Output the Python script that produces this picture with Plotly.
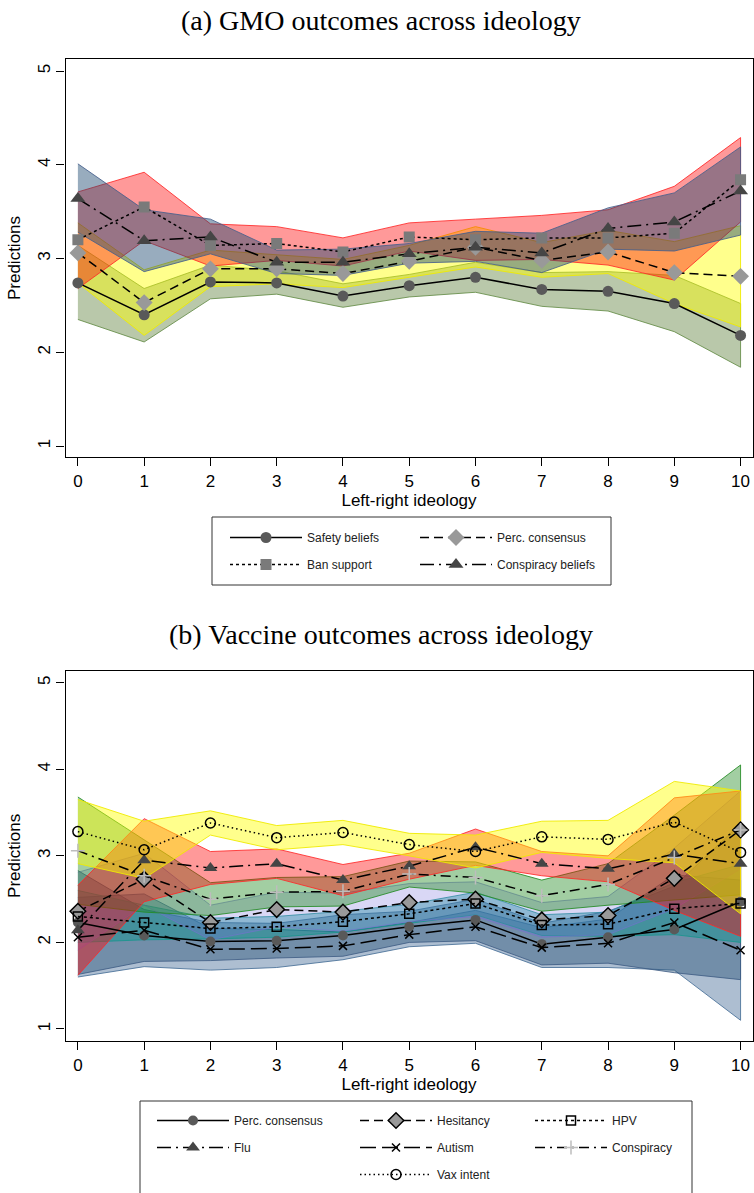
import plotly.graph_objects as go

W, H = 754, 1193

# ---------------- data ----------------
ideology = [0, 1, 2, 3, 4, 5, 6, 7, 8, 9, 10]
x_ticks = [0, 1, 2, 3, 4, 5, 6, 7, 8, 9, 10]
y_ticks = [1, 2, 3, 4, 5]

# (a) GMO outcomes
gmo_safety = [2.74, 2.40, 2.75, 2.74, 2.60, 2.71, 2.80, 2.67, 2.65, 2.52, 2.18]
gmo_safety_lo = [2.35, 2.11, 2.57, 2.62, 2.48, 2.59, 2.64, 2.49, 2.44, 2.22, 1.84]
gmo_safety_hi = [3.14, 2.68, 2.93, 2.87, 2.73, 2.83, 2.96, 2.85, 2.86, 2.82, 2.52]

gmo_perc = [3.06, 2.53, 2.89, 2.89, 2.84, 2.97, 3.12, 2.98, 3.07, 2.85, 2.81]
gmo_perc_lo = [2.74, 2.18, 2.70, 2.73, 2.69, 2.80, 2.91, 2.80, 2.84, 2.52, 2.27]
gmo_perc_hi = [3.38, 2.88, 3.09, 3.04, 2.99, 3.14, 3.34, 3.17, 3.30, 3.18, 3.35]

gmo_ban = [3.20, 3.55, 3.14, 3.16, 3.07, 3.23, 3.20, 3.22, 3.22, 3.27, 3.84]
gmo_ban_lo = [2.68, 3.19, 2.92, 2.98, 2.92, 3.08, 2.98, 2.99, 2.93, 2.77, 3.39]
gmo_ban_hi = [3.71, 3.92, 3.37, 3.34, 3.22, 3.38, 3.42, 3.46, 3.52, 3.77, 4.29]

gmo_consp = [3.64, 3.19, 3.23, 2.96, 2.96, 3.05, 3.12, 3.06, 3.32, 3.39, 3.72]
gmo_consp_lo = [3.28, 2.86, 3.05, 2.84, 2.82, 2.95, 2.97, 2.85, 3.10, 3.08, 3.25]
gmo_consp_hi = [4.01, 3.52, 3.42, 3.09, 3.10, 3.16, 3.29, 3.27, 3.54, 3.70, 4.19]

# (b) Vaccine outcomes
vac_perc = [2.23, 2.08, 2.01, 2.02, 2.08, 2.18, 2.26, 1.98, 2.06, 2.15, 2.47]
vac_perc_lo = [1.63, 1.78, 1.79, 1.82, 1.84, 2.00, 2.02, 1.74, 1.76, 1.65, 1.57]
vac_perc_hi = [2.83, 2.38, 2.23, 2.22, 2.32, 2.36, 2.50, 2.22, 2.36, 2.65, 3.37]

vac_hes = [2.36, 2.73, 2.23, 2.38, 2.35, 2.46, 2.50, 2.26, 2.31, 2.74, 3.30]
vac_hes_lo = [1.91, 2.43, 2.03, 2.18, 2.13, 2.24, 2.30, 2.06, 2.09, 2.39, 2.85]
vac_hes_hi = [2.81, 3.03, 2.43, 2.58, 2.57, 2.68, 2.70, 2.46, 2.53, 3.09, 3.75]

vac_hpv = [2.30, 2.23, 2.16, 2.18, 2.24, 2.33, 2.45, 2.20, 2.21, 2.39, 2.45]
vac_hpv_lo = [2.00, 2.03, 2.04, 2.06, 2.12, 2.22, 2.32, 2.08, 2.07, 2.09, 2.00]
vac_hpv_hi = [2.60, 2.43, 2.28, 2.30, 2.36, 2.44, 2.58, 2.32, 2.35, 2.69, 2.90]

vac_flu = [2.14, 2.95, 2.86, 2.91, 2.72, 2.88, 3.10, 2.91, 2.85, 3.02, 2.91]
vac_flu_lo = [1.62, 2.47, 2.67, 2.74, 2.54, 2.73, 2.89, 2.77, 2.70, 2.37, 2.07]
vac_flu_hi = [2.66, 3.43, 3.05, 3.08, 2.90, 3.03, 3.31, 3.05, 3.00, 3.67, 3.75]

vac_autism = [2.06, 2.14, 1.92, 1.93, 1.96, 2.09, 2.18, 1.94, 1.99, 2.23, 1.91]
vac_autism_lo = [1.60, 1.72, 1.68, 1.71, 1.80, 1.95, 1.99, 1.71, 1.71, 1.68, 1.10]
vac_autism_hi = [2.52, 2.56, 2.16, 2.15, 2.12, 2.23, 2.37, 2.17, 2.27, 2.78, 2.72]

vac_consp = [3.06, 2.77, 2.50, 2.58, 2.59, 2.79, 2.75, 2.54, 2.67, 2.98, 3.30]
vac_consp_lo = [2.44, 2.35, 2.31, 2.41, 2.42, 2.64, 2.57, 2.36, 2.43, 2.49, 2.55]
vac_consp_hi = [3.68, 3.19, 2.69, 2.75, 2.76, 2.94, 2.93, 2.72, 2.91, 3.47, 4.05]

vac_vax = [3.28, 3.07, 3.38, 3.21, 3.27, 3.13, 3.05, 3.22, 3.19, 3.39, 3.04]
vac_vax_lo = [2.91, 2.74, 3.24, 3.07, 3.13, 3.00, 2.86, 3.04, 2.97, 2.92, 2.33]
vac_vax_hi = [3.65, 3.40, 3.52, 3.35, 3.41, 3.26, 3.24, 3.40, 3.41, 3.86, 3.75]

# ---------------- figure ----------------
fig = go.Figure()
SANS = "Liberation Sans, Arial, sans-serif"
SERIF = "Liberation Serif, Times New Roman, serif"


def band(lo, hi, fill, edge, xa, ya):
    fig.add_trace(go.Scatter(
        x=ideology + ideology[::-1], y=hi + lo[::-1],
        mode="lines", fill="toself", fillcolor=fill,
        line=dict(color=edge, width=1), hoverinfo="skip",
        showlegend=False, xaxis=xa, yaxis=ya))


def series(y, name, dash, marker, legend, xa, ya):
    fig.add_trace(go.Scatter(
        x=ideology, y=y, name=name, mode="lines+markers",
        line=dict(color="black", width=1.5, dash=dash),
        marker=marker, legend=legend, legendgroup=name,
        xaxis=xa, yaxis=ya))


# panel (a) bands
band(gmo_safety_lo, gmo_safety_hi, "rgba(80,117,42,0.40)", "rgba(100,140,70,0.85)", "x", "y")
band(gmo_perc_lo, gmo_perc_hi, "rgba(255,255,0,0.45)", "rgba(240,235,0,0.9)", "x", "y")
band(gmo_ban_lo, gmo_ban_hi, "rgba(255,0,0,0.40)", "rgba(255,40,40,0.85)", "x", "y")
band(gmo_consp_lo, gmo_consp_hi, "rgba(26,71,111,0.45)", "rgba(70,95,140,0.85)", "x", "y")

# panel (a) lines
series(gmo_safety, "Safety beliefs", "solid",
       dict(symbol="circle", size=11, color="#595959", line=dict(width=0)), "legend", "x", "y")
series(gmo_perc, "Perc. consensus", "9px,5px",
       dict(symbol="diamond", size=13, color="#999999", line=dict(width=0)), "legend2", "x", "y")
series(gmo_ban, "Ban support", "3px,3px",
       dict(symbol="square", size=11, color="#7a7a7a", line=dict(width=0)), "legend", "x", "y")
series(gmo_consp, "Conspiracy beliefs", "14px,5px,2px,5px",
       dict(symbol="triangle-up", size=13, color="#454545", line=dict(width=0)), "legend2", "x", "y")

# panel (b) bands
band(vac_autism_lo, vac_autism_hi, "rgba(60,100,145,0.42)", "rgba(70,110,150,0.85)", "x2", "y2")
band(vac_perc_lo, vac_perc_hi, "rgba(26,71,111,0.40)", "rgba(60,90,130,0.8)", "x2", "y2")
band(vac_hpv_lo, vac_hpv_hi, "rgba(0,150,140,0.40)", "rgba(20,150,140,0.8)", "x2", "y2")
band(vac_hes_lo, vac_hes_hi, "rgba(120,110,220,0.28)", "rgba(120,110,210,0.6)", "x2", "y2")
band(vac_consp_lo, vac_consp_hi, "rgba(34,139,34,0.42)", "rgba(34,139,34,0.85)", "x2", "y2")
band(vac_flu_lo, vac_flu_hi, "rgba(255,0,0,0.40)", "rgba(255,40,40,0.85)", "x2", "y2")
band(vac_vax_lo, vac_vax_hi, "rgba(255,255,0,0.45)", "rgba(240,235,0,0.9)", "x2", "y2")

# panel (b) lines
series(vac_perc, "Perc. consensus ", "solid",
       dict(symbol="circle", size=10, color="#595959", line=dict(width=0)), "legend3", "x2", "y2")
series(vac_hes, "Hesitancy", "9px,5px",
       dict(symbol="diamond", size=12, color="#999999", line=dict(color="black", width=1.5)), "legend4", "x2", "y2")
series(vac_hpv, "HPV", "3px,3px",
       dict(symbol="square-open", size=9, color="black", line=dict(color="black", width=1.5)), "legend5", "x2", "y2")
series(vac_flu, "Flu", "14px,5px,2px,5px",
       dict(symbol="triangle-up", size=12, color="#454545", line=dict(width=0)), "legend3", "x2", "y2")
series(vac_autism, "Autism", "16px,6px",
       dict(symbol="x-thin", size=8, color="black", line=dict(color="black", width=1.5)), "legend4", "x2", "y2")
series(vac_consp, "Conspiracy", "10px,5px,2px,5px",
       dict(symbol="cross-thin", size=10, color="#bdbdbd", line=dict(color="#bdbdbd", width=1.5)), "legend5", "x2", "y2")
series(vac_vax, "Vax intent", "1.5px,3px",
       dict(symbol="circle-open", size=10, color="black", line=dict(color="black", width=1.5)), "legend4", "x2", "y2")

# ---------------- axes ----------------
xdom = [65.5 / W, 752.5 / W]
axis_common = dict(showline=True, linecolor="black", linewidth=1.3, mirror=True,
                   ticks="outside", ticklen=8, tickwidth=1.2, tickcolor="black",
                   showgrid=False, zeroline=False,
                   tickfont=dict(family=SANS, size=17, color="black"))
xtitle = dict(text="Left-right ideology", font=dict(family=SANS, size=17, color="black"), standoff=4)
ytitle = dict(text="Predictions", font=dict(family=SANS, size=17, color="black"), standoff=9)

fig.update_layout(
    xaxis=dict(domain=xdom, range=[-0.187, 10.18], tickvals=x_ticks, ticktext=[str(t) for t in x_ticks],
               anchor="y", title=xtitle, **axis_common),
    yaxis=dict(domain=[1 - 457 / H, 1 - 59 / H], range=[0.883, 5.128], tickvals=y_ticks, tickangle=-90,
               anchor="x", title=ytitle, **axis_common),
    xaxis2=dict(domain=xdom, range=[-0.187, 10.18], tickvals=x_ticks, ticktext=[str(t) for t in x_ticks],
                anchor="y2", title=xtitle, **axis_common),
    yaxis2=dict(domain=[1 - 1041 / H, 1 - 670.7 / H], range=[0.861, 5.139], tickvals=y_ticks, tickangle=-90,
                anchor="x2", title=ytitle, **axis_common),
)

# ---------------- legends ----------------
ITEMW = 72
leg_common = dict(orientation="v", xanchor="left", yanchor="top", bgcolor="rgba(0,0,0,0)",
                  borderwidth=0, itemwidth=ITEMW, traceorder="grouped", tracegroupgap=8,
                  font=dict(family=SANS, size=12, color="#222222"), itemclick=False)


def leg(text_x, top_y):
    d = dict(leg_common)
    d.update(x=(text_x - ITEMW - 10) / W, y=1 - top_y / H)
    return d


fig.update_layout(
    legend=leg(307, 523),
    legend2=leg(497, 523),
    legend3=leg(234, 1106),
    legend4=leg(437, 1106),
    legend5=leg(612, 1106),
)

fig.add_shape(type="rect", xref="paper", yref="paper", x0=212 / W, x1=611 / W,
              y0=1 - 585 / H, y1=1 - 517 / H, line=dict(color="#333333", width=1))
fig.add_shape(type="rect", xref="paper", yref="paper", x0=140 / W, x1=692 / W,
              y0=-0.02, y1=1 - 1101 / H, line=dict(color="#333333", width=1))

# titles
fig.add_annotation(text="(a) GMO outcomes across ideology", xref="paper", yref="paper",
                   x=0.505, y=1 - 20 / H, xanchor="center", yanchor="middle", showarrow=False,
                   font=dict(family=SERIF, size=28, color="black"))
fig.add_annotation(text="(b) Vaccine outcomes across ideology", xref="paper", yref="paper",
                   x=0.505, y=1 - 634 / H, xanchor="center", yanchor="middle", showarrow=False,
                   font=dict(family=SERIF, size=28, color="black"))

fig.update_layout(width=W, height=H, margin=dict(l=0, r=0, t=0, b=0),
                  paper_bgcolor="white", plot_bgcolor="white", showlegend=True,
                  hovermode=False)

fig.write_html("out.html")
